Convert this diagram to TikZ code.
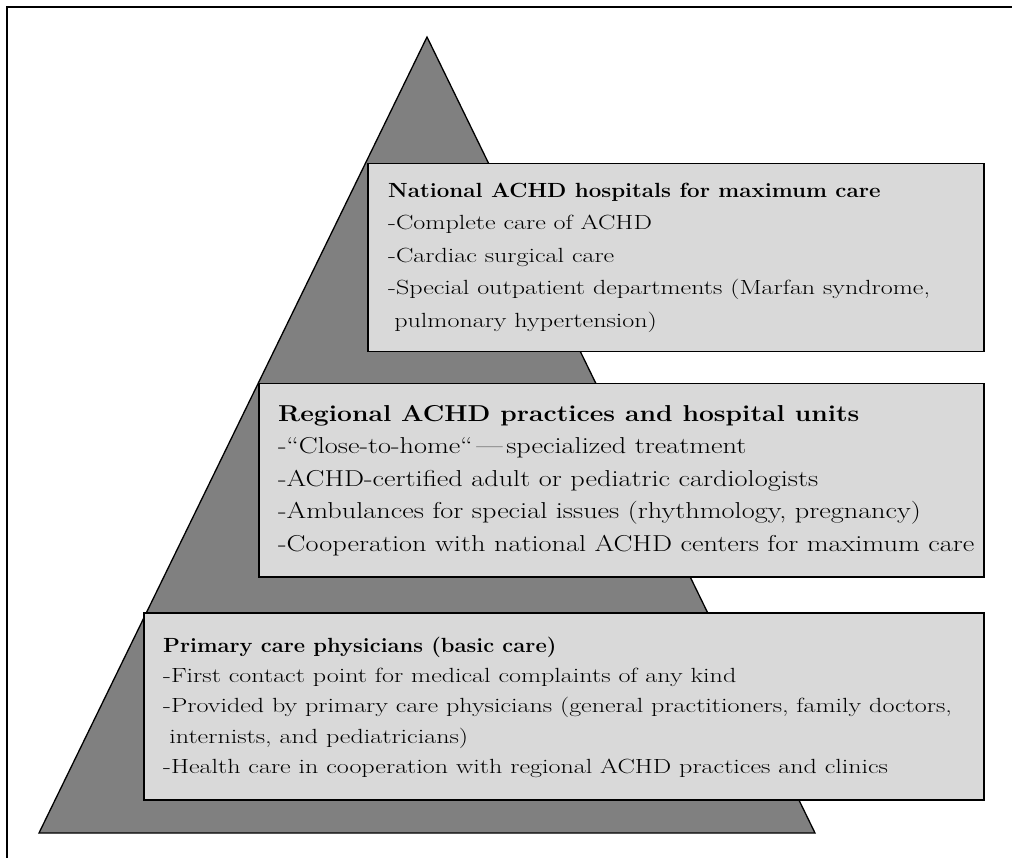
\documentclass[tikz,border=0pt]{standalone}
\usepackage{fontspec}
\setmainfont{Latin Modern Roman}
\newfontfamily\fontnat{Latin Modern Roman}[UprightFeatures={FakeStretch=1.27},BoldFeatures={FakeStretch=1.09}]
\newfontfamily\fontreg{Latin Modern Roman}[UprightFeatures={FakeStretch=1.23},BoldFeatures={FakeStretch=1.15}]
\newfontfamily\fontpri{Latin Modern Roman}[UprightFeatures={FakeStretch=1.27},BoldFeatures={FakeStretch=1.07}]
\begin{document}
\begin{tikzpicture}[x=1pt,y=-1pt,
  tierbox/.style={draw=black,line width=1.5pt,fill=boxgray,anchor=north west,inner sep=0pt},
  tiertext/.style={anchor=west,align=left,inner sep=0pt},
]
\definecolor{boxgray}{HTML}{D9D9D9}
\definecolor{pyrgray}{HTML}{808080}
\useasboundingbox (0,0) rectangle (1012,858);
\draw[line width=2pt] (7,858) -- (7,7) -- (1012,7);
\coordinate (apex) at (427,37);
\coordinate (bl) at (39,833);
\coordinate (br) at (815,833);
\draw[line width=1.3pt,fill=pyrgray,line join=miter] (apex) -- (br) -- (bl) -- cycle;
\node[tierbox,minimum width=616pt,minimum height=188pt] (national) at (367,163) {};
\node[tiertext,font=\fontnat\fontsize{20.5}{32.5}\selectfont] (nationaltext) at ([xshift=21pt]national.west)
 {\textbf{National ACHD hospitals for maximum care}\\
 -Complete care of ACHD\\
 -Cardiac surgical care\\
 -Special outpatient departments (Marfan syndrome,\\
 \hspace*{0.3em}pulmonary hypertension)};
\node[tierbox,minimum width=725pt,minimum height=193pt] (regional) at (258,383) {};
\node[tiertext,font=\fontreg\fontsize{23}{32.5}\selectfont] (regionaltext) at ([xshift=20pt]regional.west)
 {\textbf{Regional ACHD practices and hospital units}\\
 -“Close-to-home“\,—\,specialized treatment\\
 -ACHD-certified adult or pediatric cardiologists\\
 -Ambulances for special issues (rhythmology, pregnancy)\\
 -Cooperation with national ACHD centers for maximum care};
\node[tierbox,minimum width=840pt,minimum height=187pt] (primary) at (143,612) {};
\node[tiertext,font=\fontpri\fontsize{20.5}{30.3}\selectfont] (primarytext) at ([xshift=20pt,yshift=-1pt]primary.west)
 {\textbf{Primary care physicians (basic care)}\\
 -First contact point for medical complaints of any kind\\
 -Provided by primary care physicians (general practitioners, family doctors,\\
 \hspace*{0.3em}internists, and pediatricians)\\
 -Health care in cooperation with regional ACHD practices and clinics};
\end{tikzpicture}
\end{document}
